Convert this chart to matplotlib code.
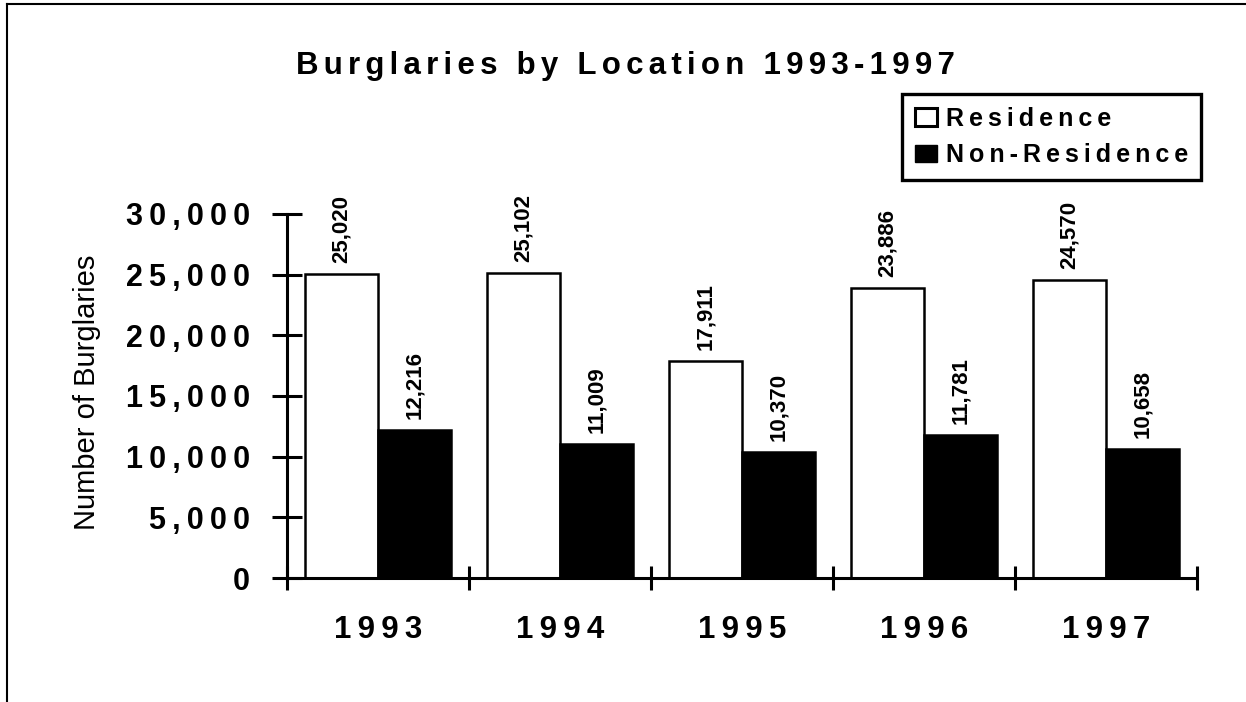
import matplotlib
matplotlib.use('Agg')
import numpy as np
import matplotlib.pyplot as plt
from matplotlib.patches import Patch
from matplotlib.lines import Line2D

# data
years = ['1993', '1994', '1995', '1996', '1997']
residence = [25020, 25102, 17911, 23886, 24570]
non_residence = [12216, 11009, 10370, 11781, 10658]
y_ticks = [0, 5000, 10000, 15000, 20000, 25000, 30000]
series_names = ['Residence', 'Non-Residence']
title = 'Burglaries by Location 1993-1997'

plt.rcParams['font.family'] = ['Liberation Sans', 'DejaVu Sans']

W, H = 1246, 702
THIN = '\u2009'
NARROW = '\u2006'


def spaced(s, gap=THIN):
    """Fake letter spacing by putting a gap between every character"""
    return gap.join(s)


fig = plt.figure(figsize=(W / 100, H / 100), dpi=100)
ax = fig.add_axes([287 / W, 1 - 578 / H, 910 / W, 364 / H])

x = np.arange(len(years))
w = 0.4
ax.bar(x - w / 2, residence, w, color='white', edgecolor='black', linewidth=1.8)
ax.bar(x + w / 2, non_residence, w, color='black', edgecolor='black', linewidth=1.8)

# value labels above the bars
for xs, vals in [(x - w / 2, residence), (x + w / 2, non_residence)]:
    for xi, v in zip(xs, vals):
        ax.annotate(f'{v:,}', (xi, v), xytext=(0, 8), textcoords='offset points',
                    rotation=90, ha='center', va='bottom',
                    fontsize=16, fontweight='bold')

ax.set_xlim(-0.5, len(years) - 0.5)
ax.set_ylim(0, 30000)

for side in ['top', 'right']:
    ax.spines[side].set_visible(False)
for side in ['left', 'bottom']:
    ax.spines[side].set_linewidth(2.2)

ax.set_yticks(y_ticks)
ax.set_yticklabels([spaced(f'{t:,}') for t in y_ticks],
                   fontsize=22, fontweight='bold')
ax.tick_params(axis='y', direction='inout', length=21, width=2.2, pad=16)

ax.set_xticks(x)
ax.set_xticklabels([spaced(y) for y in years], fontsize=22.5, fontweight='bold')
ax.tick_params(axis='x', which='major', length=0, pad=27)
ax.set_xticks(np.arange(-0.5, len(years), 1), minor=True)
ax.tick_params(axis='x', which='minor', direction='inout', length=17, width=2.2)

ax.set_ylabel('Number of Burglaries', fontsize=21, va='center')
ax.yaxis.set_label_coords(-0.22, 0.511)

fig.text(625 / W, 1 - 74 / H, spaced(title, NARROW), ha='center', va='baseline',
         fontsize=22.5, fontweight='bold')

handles = [Patch(facecolor='white', edgecolor='black', linewidth=2.2, label=spaced(series_names[0])),
           Patch(facecolor='black', edgecolor='black', label=spaced(series_names[1]))]
leg = fig.legend(handles=handles, loc='upper left', bbox_to_anchor=(902 / W, 1 - 94 / H),
                 frameon=True, fancybox=False, edgecolor='black', framealpha=1,
                 prop={'size': 18, 'weight': 'bold'}, handlelength=0.9, handleheight=0.7,
                 handletextpad=0.36, borderpad=0.5, labelspacing=0.5, borderaxespad=0)
leg.get_frame().set_linewidth(2.4)

# border round the figure (top and left only)
fig.add_artist(Line2D([7 / W, 7 / W], [0, 1 - 4 / H], transform=fig.transFigure,
                      color='black', linewidth=1.5))
fig.add_artist(Line2D([7 / W, 1245 / W], [1 - 4 / H, 1 - 4 / H], transform=fig.transFigure,
                      color='black', linewidth=1.5))

fig.savefig('out.png', dpi=100)
